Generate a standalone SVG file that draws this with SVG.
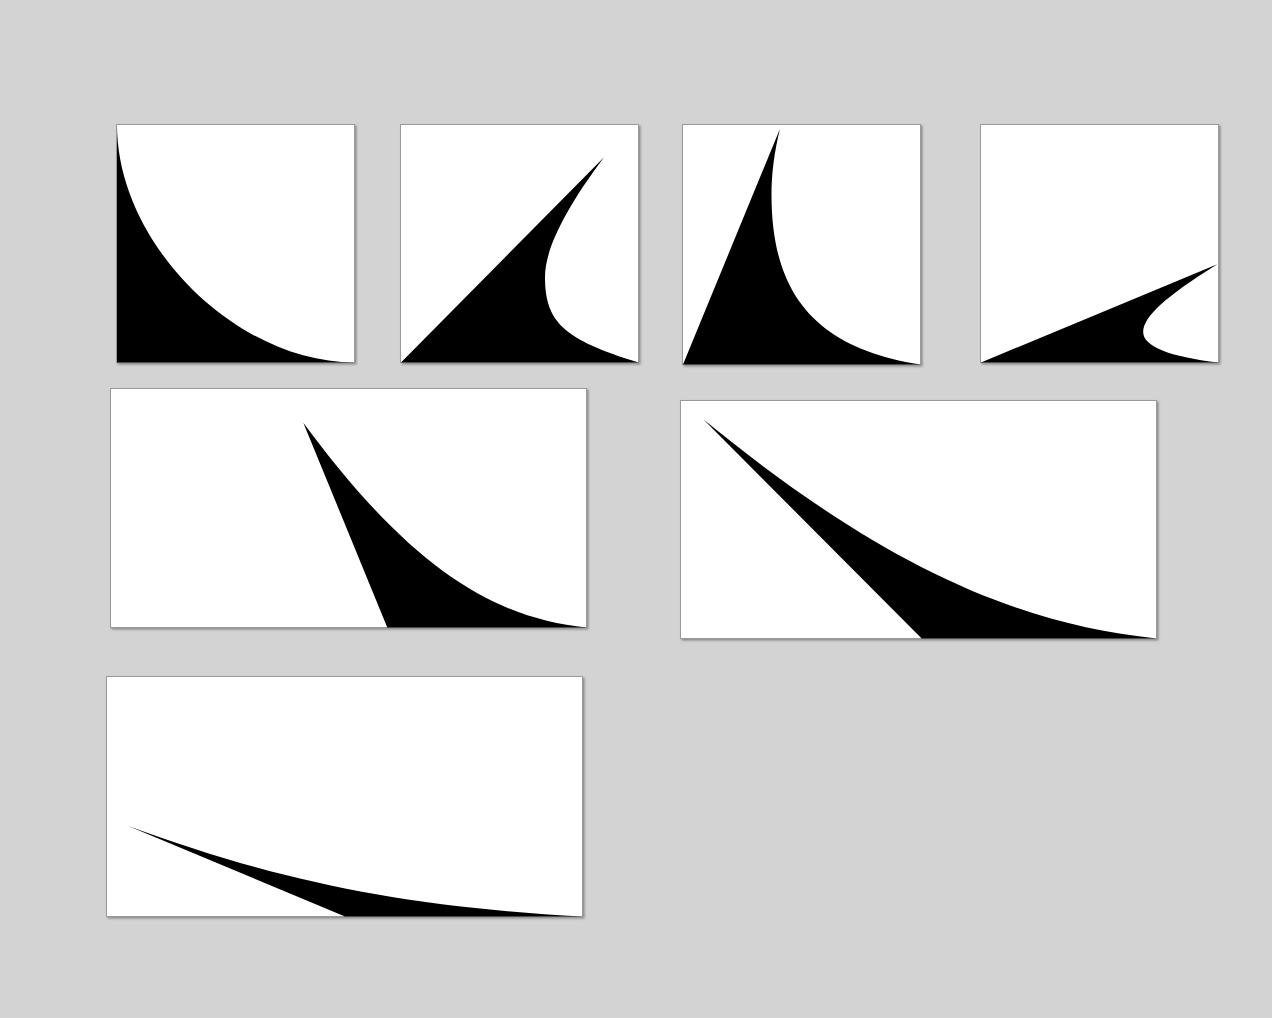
<svg xmlns="http://www.w3.org/2000/svg" width="1272" height="1018" viewBox="0 0 1272 1018">
<style>
.panel{fill:#ffffff;stroke:#9a9a9a;stroke-width:1;filter:url(#shadow)}
.shape{fill:#000000;stroke:none}
</style>
<defs>
<filter id="shadow" x="-5%" y="-5%" width="110%" height="110%">
<feDropShadow dx="1.5" dy="1.5" stdDeviation="1.2" flood-color="#000" flood-opacity="0.35"/>
</filter>
</defs>
<rect x="0" y="0" width="1272" height="1018" fill="#d3d3d3"/>
<g id="panel1">
<rect class="panel" x="116.5" y="124.5" width="238" height="238"/>
<path class="shape" d="M117,362.5 L117,125 C117,243.75 236,362.5 354.5,362.5 Z"/>
</g>
<g id="panel2">
<rect class="panel" x="400.5" y="124.5" width="238" height="238"/>
<path class="shape" d="M401,362.5 L604,157.3 C564.7,209.7 545,249.7 545,277 C545,322.4 563.8,339.4 638.5,362.5 Z"/>
</g>
<g id="panel3">
<rect class="panel" x="682.5" y="124.5" width="238" height="240"/>
<path class="shape" d="M683,364.5 L780,128.7 C774.3,151.6 771.5,173.7 771.5,195 C771.5,296.2 817.8,348.5 920.5,364.5 Z"/>
</g>
<g id="panel4">
<rect class="panel" x="980.5" y="124.5" width="238" height="238"/>
<path class="shape" d="M981,362.5 L1217.3,264.3 C1165.4,296.6 1143.2,317 1143.2,332 C1143.2,346.4 1169.6,356.8 1218.5,362.5 Z"/>
</g>
<g id="panel5">
<rect class="panel" x="110.5" y="388.5" width="476" height="239"/>
<path class="shape" d="M387.3,627.5 L303.3,422.7 C410,567.3 492.3,617.9 586.5,627.5 Z"/>
</g>
<g id="panel6">
<rect class="panel" x="680.5" y="400.5" width="476" height="238"/>
<path class="shape" d="M921.7,638.5 L703.3,419.3 C872.5,557.8 1008.6,623.5 1156.5,638.5 Z"/>
</g>
<g id="panel7">
<rect class="panel" x="106.5" y="676.5" width="476" height="240"/>
<path class="shape" d="M345,916.5 L127.7,825.7 C279.1,881.7 406.2,906.9 582.5,916.5 Z"/>
</g>
<g id="connectors"/>
</svg>
